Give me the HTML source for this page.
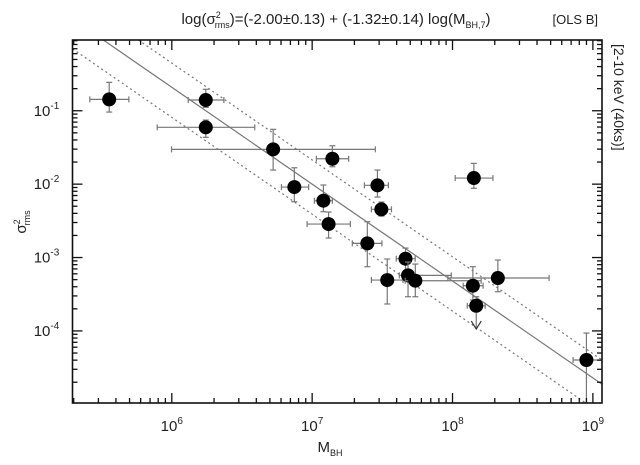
<!DOCTYPE html>
<html><head><meta charset="utf-8"><style>
body{margin:0;background:#fff}
svg{display:block;font-family:"Liberation Sans",sans-serif}
</style></head><body>
<svg id="chart" width="640" height="465" viewBox="0 0 640 465"></svg>
<script>
const logMass=[5.554,6.242,6.242,6.722,7.144,6.873,7.080,7.465,7.493,7.117,7.393,8.152,7.535,7.665,7.683,7.735,8.145,8.323,8.169,8.954];
const logSig=[-0.845,-0.854,-1.226,-1.526,-1.654,-2.040,-2.226,-2.016,-2.343,-2.544,-2.807,-1.917,-3.307,-3.016,-3.243,-3.316,-3.384,-3.279,-3.657,-4.396];
const massLo=[5.416,6.117,5.896,5.998,7.030,6.781,7.016,7.372,7.422,6.964,7.286,8.019,7.422,7.599,7.621,7.663,8.076,7.967,8.105,8.859];
const massHi=[5.694,6.371,6.591,7.450,7.260,6.975,7.144,7.543,7.565,7.272,7.497,8.288,7.647,7.734,7.991,8.204,8.218,8.688,8.233,9.065];
const sigHi=[-0.613,-0.708,-1.127,-1.253,-1.477,-1.777,-2.012,-1.808,-2.244,-2.380,-2.512,-1.717,-3.020,-2.871,-3.061,-3.089,-3.125,-3.034,-3.534,-4.029];
const sigLo=[-1.018,-0.954,-1.362,-1.808,-1.763,-2.240,-2.376,-2.176,-2.435,-2.734,-3.125,-2.057,-3.633,-3.198,-3.534,-3.534,-3.579,-3.466,-3.974,-4.982];
const upperLimit=[0,0,0,0,0,0,0,0,0,0,0,0,0,0,0,0,0,0,1,0];
const fitIntercept=-2.00, fitSlope=-1.32, bandUp=0.33, bandDown=-0.41;
const xTicks=[6,7,8,9];
const yTicks=[-1,-2,-3,-4];

const NS="http://www.w3.org/2000/svg", svg=document.getElementById('chart');
const L=72.5,R=602,T=40,B=403;
const X0=5.2925,X1=9.0650,Y0=-4.982,Y1=-0.036;
const sx=v=>L+(v-X0)/(X1-X0)*(R-L);
const sy=v=>B-(v-Y0)/(Y1-Y0)*(B-T);
function el(tag,attrs,parent){const e=document.createElementNS(NS,tag);for(const k in attrs)e.setAttribute(k,attrs[k]);(parent||svg).appendChild(e);return e;}
const clip=el('clipPath',{id:'pc'});el('rect',{x:L,y:T,width:R-L,height:B-T},clip);

// fit lines
const fitG=el('g',{'clip-path':'url(#pc)'});


[[0,'none','fit-line'],[bandUp,'2,3','upper-band'],[bandDown,'2,3','lower-band']].forEach(([o,d,n])=>{
 const f=m=>fitIntercept+fitSlope*(m-7)+o;
 const ln=el('line',{x1:sx(X0),y1:sy(f(X0)),x2:sx(X1),y2:sy(f(X1)),stroke:'#777','stroke-width':1.2,'stroke-dasharray':d},fitG);
 
 
});

// points
const ptG=el('g',{'clip-path':'url(#pc)'});
for(let i=0;i<logMass.length;i++){
 const g=el('g',{},ptG);
 
 
 const cx=sx(logMass[i]),cy=sy(logSig[i]);
 const st={stroke:'#777','stroke-width':1.2};
 el('line',Object.assign({x1:sx(massLo[i]),x2:sx(massHi[i]),y1:cy,y2:cy},st),g);
 el('line',Object.assign({x1:sx(massLo[i]),x2:sx(massLo[i]),y1:cy-3,y2:cy+3},st),g);
 el('line',Object.assign({x1:sx(massHi[i]),x2:sx(massHi[i]),y1:cy-3,y2:cy+3},st),g);
 el('line',Object.assign({x1:cx,x2:cx,y1:sy(sigHi[i]),y2:sy(sigLo[i])},st),g);
 el('line',Object.assign({x1:cx-3,x2:cx+3,y1:sy(sigHi[i]),y2:sy(sigHi[i])},st),g);
 if(upperLimit[i]){const yb=sy(sigLo[i]);el('path',{d:`M${cx-5},${yb-8}L${cx},${yb}L${cx+5},${yb-8}`,fill:'none',stroke:'#333','stroke-width':1.2},g);}
 else el('line',Object.assign({x1:cx-3,x2:cx+3,y1:sy(sigLo[i]),y2:sy(sigLo[i])},st),g);
 el('circle',{cx:cx,cy:cy,r:7,fill:'#000'},g);
}

// frame & ticks
const fr=el('rect',{x:L,y:T,width:R-L,height:B-T,fill:'none',stroke:'#111','stroke-width':1.6});


const tk=el('g',{stroke:'#111','stroke-width':1.3});
for(let d=5;d<=9;d++)for(let k=1;k<10;k++){const v=d+Math.log10(k);if(v<X0||v>X1)continue;const x=sx(v),len=k==1?10:5;
 el('line',{x1:x,x2:x,y1:B,y2:B-len},tk);el('line',{x1:x,x2:x,y1:T,y2:T+len},tk);}
for(let d=-5;d<=0;d++)for(let k=1;k<10;k++){const v=d+Math.log10(k);if(v<Y0||v>Y1)continue;const y=sy(v),len=k==1?10:5;
 el('line',{x1:L,x2:L+len,y1:y,y2:y},tk);el('line',{x1:R,x2:R-len,y1:y,y2:y},tk);}
xTicks.forEach(v=>{const t=el('text',{x:sx(v),y:B+28,'text-anchor':'middle','font-size':15,fill:'#222'});
 
 t.innerHTML=`10<tspan dy="-7" font-size="10">${v}</tspan>`;});
yTicks.forEach(v=>{const t=el('text',{x:L-26,y:sy(v)+5,'text-anchor':'middle','font-size':15,fill:'#222'});
 
 t.innerHTML=`10<tspan dy="-7" font-size="10">${v}</tspan>`;});
</script>
<svg width="640" height="465" style="position:absolute;left:0;top:0" font-family="Liberation Sans, sans-serif">
<text x="336" y="24" text-anchor="middle" font-size="15" fill="#222">log(σ<tspan dy="-6" font-size="9">2</tspan><tspan dy="10" dx="-6" font-size="9">rms</tspan><tspan dy="-4">)=(-2.00±0.13) + (-1.32±0.14) log(M</tspan><tspan dy="4" font-size="9">BH,7</tspan><tspan dy="-4">)</tspan></text>
<text x="598" y="24" text-anchor="end" font-size="13" fill="#222">[OLS B]</text>
<text transform="translate(614,44) rotate(90)" font-size="14" fill="#222">[2-10 keV (40ks)]</text>
<text transform="translate(26,222) rotate(-90)" text-anchor="middle" font-size="15" fill="#222">σ<tspan dy="-6" font-size="9">2</tspan><tspan dy="10" dx="-6" font-size="9">rms</tspan></text>
<text x="330" y="452" text-anchor="middle" font-size="15" fill="#222">M<tspan dy="4" font-size="9">BH</tspan></text>
</svg>
</body></html>
